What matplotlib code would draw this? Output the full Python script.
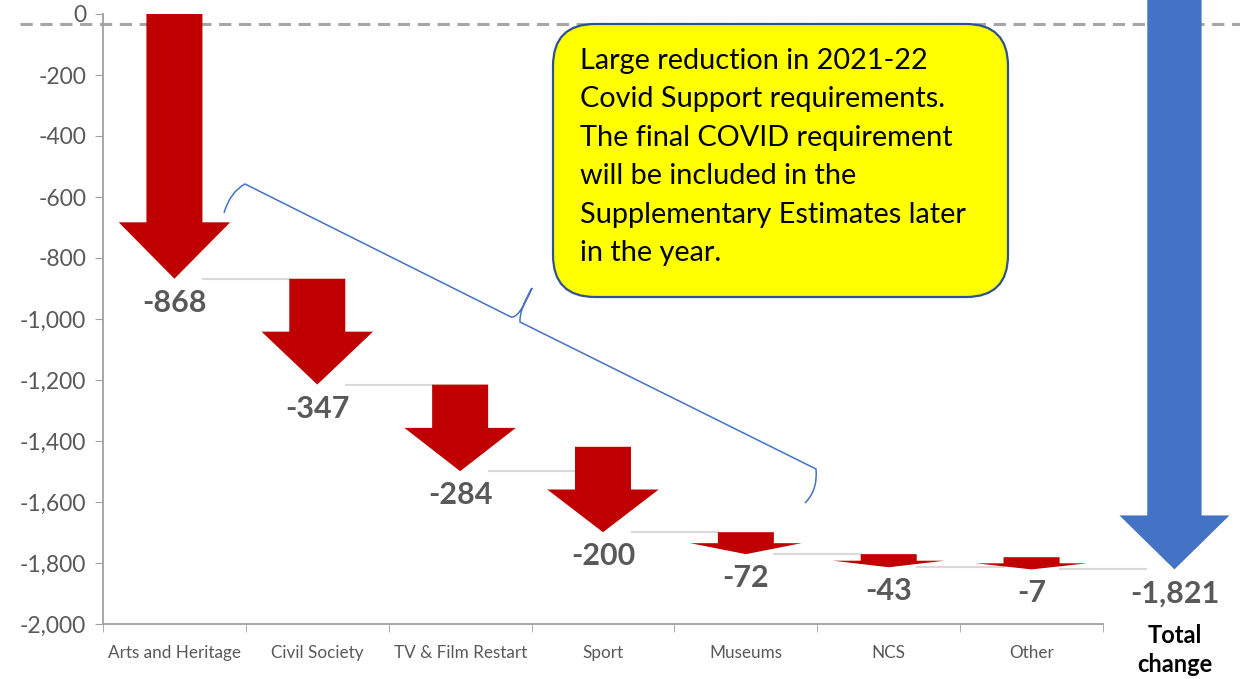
import numpy as np
import matplotlib.pyplot as plt
from matplotlib.patches import Polygon, FancyBboxPatch, PathPatch
from matplotlib.path import Path
from matplotlib.ticker import FuncFormatter
from matplotlib import transforms

plt.rcParams['font.family'] = ['Lato', 'DejaVu Sans']

# data
categories = ["Arts and Heritage", "Civil Society", "TV & Film Restart", "Sport",
              "Museums", "NCS", "Other"]
changes = [-868, -347, -284, -200, -72, -43, -7]
total_label = "Total\nchange"
y_ticks = list(range(-2000, 1, 200))
note_lines = ["Large reduction in 2021-22",
              "Covid Support requirements.",
              "The final COVID requirement",
              "will be included in the",
              "Supplementary Estimates later",
              "in the year."]

RED = '#C00000'
BLUE = '#4472C4'
GREY_TXT = '#595959'
AXIS = '#A0A0A0'

W, H = 1240, 679
fig = plt.figure(figsize=(W / 100, H / 100), dpi=100)
ax = fig.add_axes([103 / W, 1 - 624 / H, 1000 / W, 610 / H])
ax.set_xlim(-0.5, 6.5)
ax.set_ylim(-2000, 0)

# pixel transform for the decorations (note box, brace, guide line)
px = transforms.Affine2D().scale(1 / W, -1 / H).translate(0, 1) + fig.transFigure


def down_arrow(x, top, tip, head_len, shaft_hw, head_hw, color):
    hb = tip + head_len
    verts = [(x - shaft_hw, top), (x + shaft_hw, top), (x + shaft_hw, hb),
             (x + head_hw, hb), (x, tip), (x - head_hw, hb), (x - shaft_hw, hb)]
    ax.add_patch(Polygon(verts, closed=True, facecolor=color, edgecolor='none',
                         clip_on=False, zorder=3))


cum = np.cumsum(changes)
prev = np.concatenate([[0], cum[:-1]])
shaft_hw, head_hw = 0.196, 0.39

for i, (v, start, end) in enumerate(zip(changes, prev, cum)):
    length = max(abs(v), 280) if abs(v) >= 150 else max(abs(v), 40)
    top = end + length
    head = min(185, 0.5 * length)
    down_arrow(i, top, end, head, shaft_hw, head_hw, RED)
    ax.annotate(f"{v:,}", (i, end), xytext=(0, -24), textcoords='offset pixels',
                ha='center', va='center', fontsize=22, fontweight='bold',
                color=GREY_TXT, annotation_clip=False, zorder=4)
    # connector to next column
    nxt = i + 1
    ax.plot([i + 0.2, nxt - shaft_hw], [end, end], color='#D9D9D9', lw=1.5,
            zorder=1, clip_on=False)

total = cum[-1]
n = len(categories)
down_arrow(n, 400, total, 177, 0.19, 0.385, BLUE)
ax.annotate(f"{total:,}", (n, total), xytext=(0, -24), textcoords='offset pixels',
            ha='center', va='center', fontsize=22, fontweight='bold',
            color=GREY_TXT, annotation_clip=False, zorder=4)
ax.annotate(total_label, (n, -2000), xytext=(0, 0), textcoords='offset pixels',
            ha='center', va='top', fontsize=17, fontweight='bold', color='black',
            linespacing=1.3, annotation_clip=False)

# dashed guide line near zero
ax.plot([20, W], [24, 24], transform=px, color='#A6A6A6', lw=2.2,
        ls=(0, (4, 2.5)), clip_on=False, zorder=2)

# axes styling
for s in ['top', 'right']:
    ax.spines[s].set_visible(False)
for s in ['left', 'bottom']:
    ax.spines[s].set_color(AXIS)
    ax.spines[s].set_linewidth(1.3)
ax.set_yticks(y_ticks)
ax.yaxis.set_major_formatter(FuncFormatter(lambda v, p: f"{v:,.0f}"))
ax.tick_params(axis='y', length=6, color=AXIS, labelcolor=GREY_TXT,
               labelsize=16.5, pad=6)
ax.set_xticks(range(n))
ax.set_xticklabels(categories)
ax.set_xticks(np.arange(-0.5, n, 1), minor=True)
ax.tick_params(axis='x', which='major', length=0, labelcolor=GREY_TXT,
               labelsize=12.3, pad=15)
ax.tick_params(axis='x', which='minor', length=6, color=AXIS)

# note box
box = FancyBboxPatch((553, 24), 455, 273, transform=px,
                     boxstyle="round,pad=0,rounding_size=42",
                     facecolor='#FFFF00', edgecolor='#2F528F', lw=1.6,
                     clip_on=False, zorder=5)
fig.patches.append(box)
for k, line in enumerate(note_lines):
    fig.text(580 / W, 1 - (61 + 38.5 * k) / H, line, ha='left', va='center',
             fontsize=20.8, color='black', zorder=6)

# brace linking the note to the first columns
verts = [(224, 213), (230, 192), (245, 184),
         (511, 317),
         (519, 319), (532, 288),
         (519, 310), (520, 322),
         (816, 469),
         (818, 490), (805, 503)]
codes = [Path.MOVETO, Path.CURVE3, Path.CURVE3,
         Path.LINETO,
         Path.CURVE3, Path.CURVE3,
         Path.CURVE3, Path.CURVE3,
         Path.LINETO,
         Path.CURVE3, Path.CURVE3]
fig.patches.append(PathPatch(Path(verts, codes), transform=px, facecolor='none',
                             edgecolor=BLUE, lw=1.1, zorder=5))

fig.savefig('out.png', dpi=100)
